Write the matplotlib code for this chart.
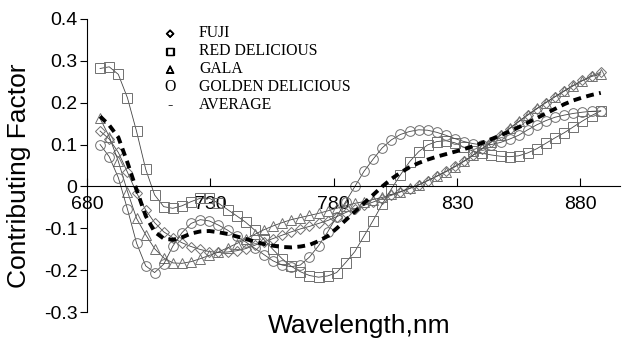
import matplotlib
matplotlib.use("Agg")
import matplotlib.pyplot as plt
import matplotlib.patheffects as pe

# wavelength grid (nm)
wavelength = [685.3, 689.0, 692.7, 696.4, 700.1, 703.8, 707.4, 711.1, 714.8, 718.5,
              722.2, 725.9, 729.6, 733.3, 737.0, 740.7, 744.3, 748.0, 751.7, 755.4,
              759.1, 762.8, 766.5, 770.2, 773.9, 777.6, 781.2, 784.9, 788.6, 792.3,
              796.0, 799.7, 803.4, 807.1, 810.8, 814.5, 818.1, 821.8, 825.5, 829.2,
              832.9, 836.6, 840.3, 844.0, 847.7, 851.4, 855.0, 858.7, 862.4, 866.1,
              869.8, 873.5, 877.2, 880.9, 884.6, 888.3]

fuji = [0.132, 0.113, 0.081, 0.034, -0.015, -0.056, -0.086, -0.108, -0.122, -0.134,
        -0.143, -0.150, -0.155, -0.157, -0.156, -0.153, -0.148, -0.140, -0.132, -0.124,
        -0.116, -0.108, -0.101, -0.095, -0.088, -0.081, -0.072, -0.062, -0.053, -0.045,
        -0.037, -0.029, -0.021, -0.013, -0.005, 0.004, 0.014, 0.025, 0.036, 0.048,
        0.061, 0.075, 0.090, 0.106, 0.122, 0.138, 0.154, 0.170, 0.185, 0.200,
        0.214, 0.228, 0.241, 0.253, 0.264, 0.272]

red_delicious = [0.281, 0.285, 0.267, 0.211, 0.131, 0.041, -0.020, -0.048, -0.052, -0.046,
                 -0.036, -0.028, -0.028, -0.040, -0.055, -0.070, -0.085, -0.104, -0.126, -0.150,
                 -0.172, -0.190, -0.203, -0.212, -0.216, -0.213, -0.205, -0.181, -0.155, -0.118,
                 -0.081, -0.042, -0.006, 0.028, 0.059, 0.083, 0.099, 0.107, 0.109, 0.104,
                 0.093, 0.084, 0.079, 0.075, 0.072, 0.071, 0.073, 0.080, 0.090, 0.103,
                 0.116, 0.128, 0.142, 0.156, 0.169, 0.180]

gala = [0.162, 0.119, 0.060, -0.012, -0.076, -0.115, -0.148, -0.170, -0.182, -0.183,
        -0.179, -0.172, -0.164, -0.156, -0.146, -0.136, -0.125, -0.114, -0.103, -0.094,
        -0.086, -0.079, -0.074, -0.069, -0.064, -0.058, -0.052, -0.046, -0.040, -0.036,
        -0.031, -0.026, -0.019, -0.012, -0.004, 0.004, 0.014, 0.024, 0.035, 0.047,
        0.060, 0.075, 0.091, 0.107, 0.123, 0.139, 0.155, 0.171, 0.186, 0.200,
        0.214, 0.227, 0.240, 0.252, 0.262, 0.268]

golden_delicious = [0.100, 0.071, 0.021, -0.054, -0.135, -0.189, -0.205, -0.185, -0.142, -0.110,
                    -0.088, -0.079, -0.082, -0.092, -0.104, -0.119, -0.132, -0.147, -0.162, -0.177,
                    -0.187, -0.191, -0.187, -0.168, -0.141, -0.108, -0.072, -0.036, 0.000, 0.036,
                    0.065, 0.092, 0.111, 0.124, 0.131, 0.135, 0.134, 0.129, 0.122, 0.114,
                    0.107, 0.102, 0.099, 0.100, 0.105, 0.113, 0.122, 0.135, 0.147, 0.157,
                    0.165, 0.170, 0.174, 0.177, 0.179, 0.180]

average = [0.167, 0.146, 0.117, 0.057, -0.008, -0.070, -0.108, -0.124, -0.127, -0.121,
           -0.112, -0.107, -0.106, -0.109, -0.113, -0.119, -0.125, -0.131, -0.137, -0.141,
           -0.144, -0.145, -0.143, -0.139, -0.130, -0.118, -0.100, -0.080, -0.060, -0.040,
           -0.020, 0.000, 0.018, 0.033, 0.046, 0.056, 0.064, 0.071, 0.077, 0.083,
           0.089, 0.096, 0.104, 0.113, 0.122, 0.131, 0.141, 0.152, 0.163, 0.174,
           0.185, 0.196, 0.205, 0.212, 0.218, 0.223]

xticks = [680, 730, 780, 830, 880]
yticks = [-0.3, -0.2, -0.1, 0, 0.1, 0.2, 0.3, 0.4]
ytick_labels = ["-0.3", "-0.2", "-0.1", "0", "0.1", "0.2", "0.3", "0.4"]

legend_labels = ["FUJI", "RED DELICIOUS", "GALA", "GOLDEN DELICIOUS", "AVERAGE"]
legend_symbols = ["\u25c7", "\u25a1", "\u25b3", "O", "-"]

plt.rcParams["font.family"] = ["Liberation Sans", "DejaVu Sans"]

fig = plt.figure(figsize=(6.26, 3.43), dpi=100)
ax = fig.add_axes([0.139, 0.089, 0.851, 0.857])

series = [(fuji, "D", 5.5), (red_delicious, "s", 6.5), (gala, "^", 7), (golden_delicious, "o", 7)]
for vals, mk, ms in series:
    ax.plot(wavelength, vals, color="#444444", lw=0.6, marker=mk, ms=ms,
            mfc="none", mec="#707070", mew=0.7)

ax.plot(wavelength, average, color="black", lw=2.8, dashes=(2.0, 1.4), zorder=5)

ax.set_xlim(680, 896)
ax.set_ylim(-0.3, 0.4)
ax.spines["top"].set_visible(False)
ax.spines["right"].set_visible(False)
ax.spines["bottom"].set_position(("data", 0))

ax.set_xticks(xticks)
ax.set_yticks(yticks)
ax.set_yticklabels(ytick_labels)
ax.tick_params(axis="x", direction="in", length=6, pad=7, labelsize=14)
ax.tick_params(axis="y", direction="out", length=5, pad=2, labelsize=14)

ax.set_xlabel("Wavelength,nm", fontsize=19)
ax.xaxis.set_label_coords(0.51, -0.005)
ax.set_ylabel("Contributing Factor", fontsize=19)
ax.yaxis.set_label_coords(-0.105, 0.464)

# legend drawn as text, symbols in a column left of the names
for i, (sym, lab) in enumerate(zip(legend_symbols, legend_labels)):
    y = 0.95 - i * 0.061
    if i < 3:
        ax.text(0.156, y, sym, transform=ax.transAxes, ha="center", va="center",
                fontsize=7, fontweight="bold", family="DejaVu Sans",
                path_effects=[pe.withStroke(linewidth=0.9, foreground="black")])
    else:
        ax.text(0.156, y, sym, transform=ax.transAxes, ha="center", va="center",
                fontsize=11.3, family="Liberation Serif")
    ax.text(0.21, y, lab, transform=ax.transAxes, ha="left", va="center",
            fontsize=11.3, family="Liberation Serif")

fig.savefig("out.png", dpi=100)
